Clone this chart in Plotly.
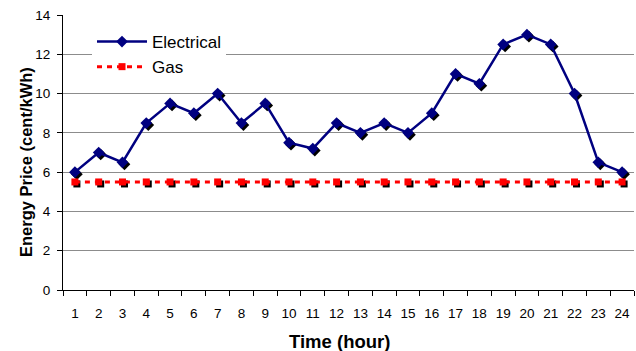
import plotly.graph_objects as go

# Hourly energy prices (cent/kWh)
hours = [1, 2, 3, 4, 5, 6, 7, 8, 9, 10, 11, 12,
         13, 14, 15, 16, 17, 18, 19, 20, 21, 22, 23, 24]
hour_labels = [str(h) for h in hours]
electrical = [6.0, 7.0, 6.5, 8.5, 9.5, 9.0, 10.0, 8.5, 9.5, 7.5, 7.2, 8.5,
              8.0, 8.5, 8.0, 9.0, 11.0, 10.5, 12.5, 13.0, 12.5, 10.0, 6.5, 6.0]
gas = [5.5, 5.5, 5.5, 5.5, 5.5, 5.5, 5.5, 5.5, 5.5, 5.5, 5.5, 5.5,
       5.5, 5.5, 5.5, 5.5, 5.5, 5.5, 5.5, 5.5, 5.5, 5.5, 5.5, 5.5]
y_ticks = [0, 2, 4, 6, 8, 10, 12, 14]

FONT = "Arial, Liberation Sans, sans-serif"
NAVY = "#000080"
RED = "#ff0000"

W, H = 636, 351
ML, MR, MT, MB = 63, 2, 15, 61
plot_w = W - ML - MR
plot_h = H - MT - MB

x_range = [hours[0] - 0.5, hours[-1] + 0.5]
y_range = [y_ticks[0], y_ticks[-1]]

# drop-shadow offset of the markers, in pixels (right, down)
sx, sy = 2, 2
dx = sx * (x_range[1] - x_range[0]) / plot_w
dy = sy * (y_range[1] - y_range[0]) / plot_h

fig = go.Figure()

# base subplot: carries the grid, axis lines and tick labels
fig.add_trace(go.Scatter(x=hours, y=gas, mode="lines", xaxis="x", yaxis="y",
                         line=dict(width=0), opacity=0,
                         showlegend=False, hoverinfo="skip"))

# marker shadows (drawn on an offset overlay)
fig.add_trace(go.Scatter(x=hours, y=electrical, mode="markers", xaxis="x2", yaxis="y2",
                         marker=dict(symbol="diamond", size=9, color="black"),
                         showlegend=False, hoverinfo="skip"))
fig.add_trace(go.Scatter(x=hours, y=gas, mode="markers", xaxis="x2", yaxis="y2",
                         marker=dict(symbol="square", size=7, color="black"),
                         showlegend=False, hoverinfo="skip"))

# main series
fig.add_trace(go.Scatter(x=hours, y=electrical, mode="lines+markers", name="Electrical",
                         xaxis="x3", yaxis="y3",
                         line=dict(color=NAVY, width=2.5),
                         marker=dict(symbol="diamond", size=9, color=NAVY)))
fig.add_trace(go.Scatter(x=hours, y=gas, mode="lines+markers", name="Gas",
                         xaxis="x3", yaxis="y3",
                         line=dict(color=RED, width=3, dash="5px,5px"),
                         marker=dict(symbol="square", size=7, color=RED)))

boundaries = [h - 0.5 for h in hours] + [hours[-1] + 0.5]

fig.update_layout(
    width=W, height=H,
    margin=dict(l=ML, r=MR, t=MT, b=MB),
    paper_bgcolor="white", plot_bgcolor="white",
    font=dict(family=FONT, size=13, color="black"),
    xaxis=dict(
        range=x_range, tickvals=hours, ticktext=hour_labels,
        ticks="", ticklen=0, showgrid=False, zeroline=False,
        showline=True, linecolor="black", linewidth=1,
        tickfont=dict(size=13.5), ticklabelstandoff=11,
        minor=dict(tickvals=boundaries, ticks="outside", ticklen=5,
                   tickcolor="black", showgrid=False),
    ),
    yaxis=dict(
        range=y_range, tickvals=y_ticks,
        ticks="outside", ticklen=5, tickcolor="black",
        showgrid=True, gridcolor="#8c8c8c", gridwidth=1, zeroline=False,
        showline=True, linecolor="black", linewidth=1,
        tickfont=dict(size=13.5), ticklabelstandoff=4,
    ),
    xaxis2=dict(overlaying="x", range=[x_range[0] - dx, x_range[1] - dx], visible=False),
    yaxis2=dict(overlaying="y", range=[y_range[0] + dy, y_range[1] + dy], visible=False),
    xaxis3=dict(overlaying="x", range=x_range, visible=False),
    yaxis3=dict(overlaying="y", range=y_range, visible=False),
    legend=dict(
        x=(92 - ML) / plot_w, y=1 - (24 - MT) / plot_h,
        xanchor="left", yanchor="top",
        bgcolor="white", borderwidth=0,
        font=dict(size=17), itemwidth=50,
    ),
    showlegend=True,
    annotations=[
        dict(text="<b>Time (hour)</b>", xref="paper", yref="paper",
             x=(339 - ML) / plot_w, y=0, yshift=-(341 - (H - MB)),
             xanchor="center", yanchor="middle", showarrow=False,
             font=dict(size=18.5)),
        dict(text="<b>Energy Price (cent/kWh)</b>", xref="paper", yref="paper",
             x=0, xshift=26 - ML, y=1 - (162 - MT) / plot_h,
             xanchor="center", yanchor="middle", textangle=-90, showarrow=False,
             font=dict(size=16.5)),
    ],
)

fig.write_html("out.html")
